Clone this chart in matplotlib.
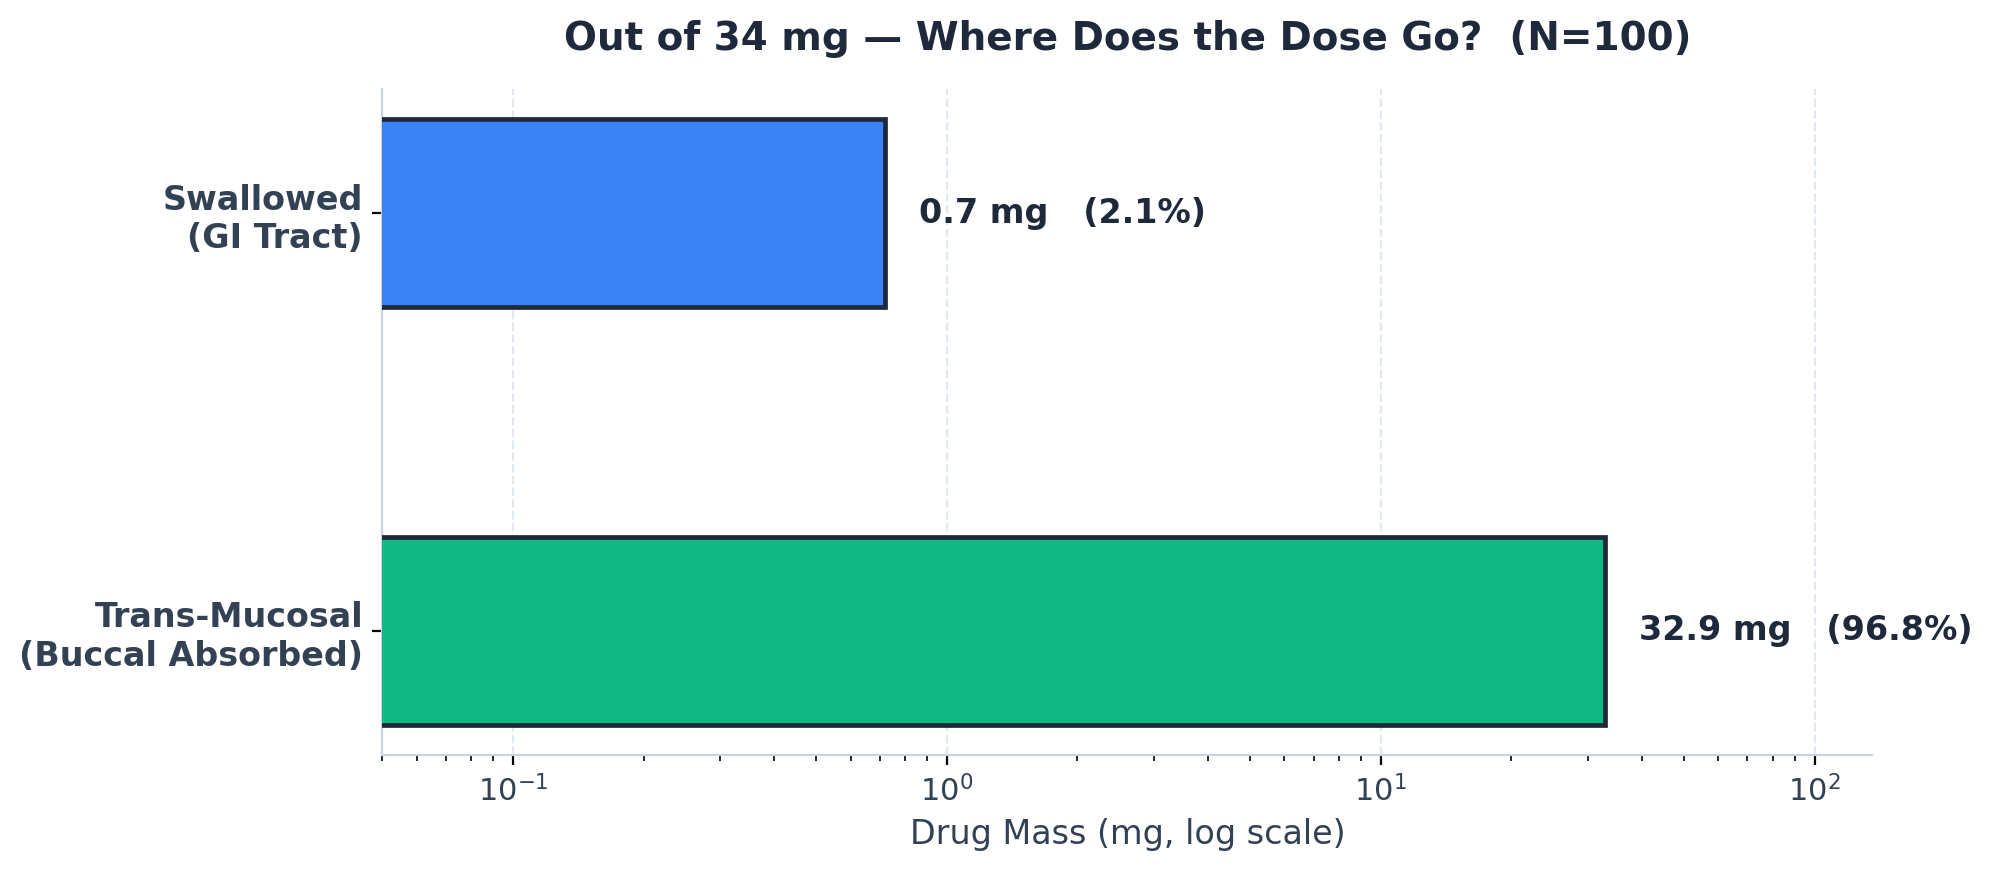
import matplotlib.pyplot as plt
import numpy as np

total_mg = 34
n_sims = 100
categories = ["Trans-Mucosal\n(Buccal Absorbed)", "Swallowed\n(GI Tract)"]
mass_mg = [32.9, 0.72]
pct = [96.8, 2.1]
colors = ["#10B981", "#3B82F6"]

fig, ax = plt.subplots(figsize=(9.96, 4.36), dpi=200)

y = np.arange(len(categories))
ax.barh(y, mass_mg, height=0.45, color=colors, edgecolor="#1E293B", linewidth=1.7, zorder=3)
ax.set_xscale("log")
ax.set_xlim(0.05, total_mg * 4)

for yi, m, p in zip(y, mass_mg, pct):
    ax.text(m * 1.2, yi, f"{m:.1f} mg   ({p:.1f}%)", va="center", ha="left",
            fontsize=12, fontweight="bold", color="#1E293B")

ax.set_yticks(y)
ax.set_yticklabels(categories, fontsize=12, fontweight="bold", color="#334155")
ax.tick_params(axis="x", labelsize=11, labelcolor="#334155")
ax.set_xlabel("Drug Mass (mg, log scale)", fontsize=12, color="#334155")
ax.set_title(f"Out of {total_mg} mg — Where Does the Dose Go?  (N={n_sims})",
             fontsize=14, fontweight="bold", color="#1E293B", pad=14)

ax.grid(axis="x", linestyle="--", color="#E2E8F0", linewidth=0.8, zorder=0)
ax.set_axisbelow(True)
for s in ["top", "right"]:
    ax.spines[s].set_visible(False)
for s in ["left", "bottom"]:
    ax.spines[s].set_color("#CBD5E1")

fig.subplots_adjust(left=0.192, right=0.94, bottom=0.134, top=0.898)
fig.savefig("out.png", dpi=200)
